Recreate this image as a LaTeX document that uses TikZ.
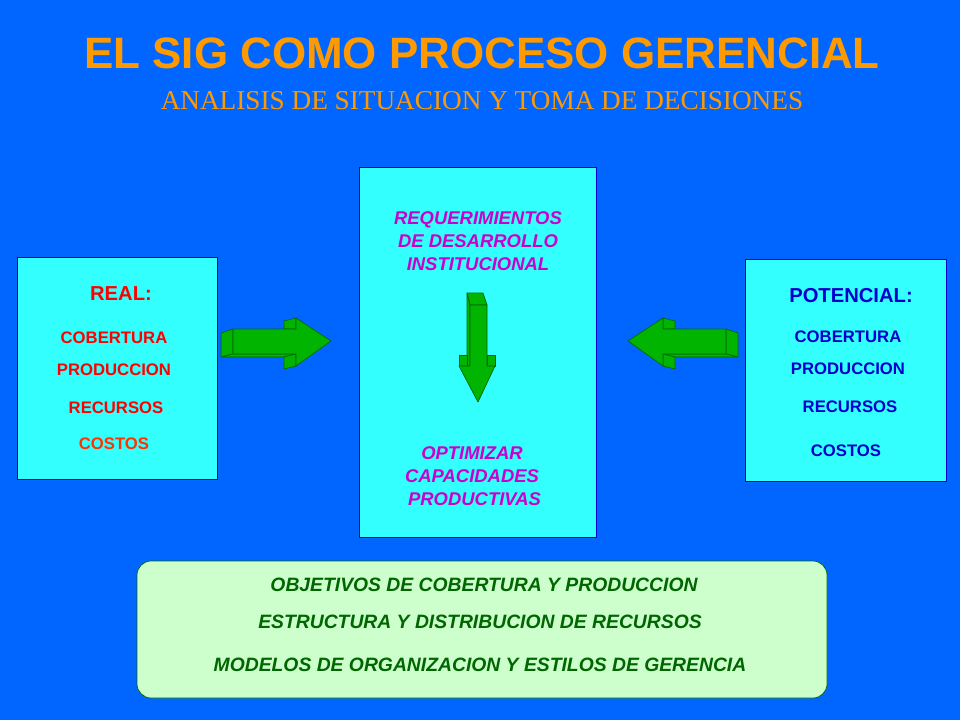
\documentclass[tikz,border=0pt]{standalone}
\usepackage{fontspec}
\setmainfont{Liberation Sans}
\newfontfamily\serifont{Liberation Serif}
\usetikzlibrary{positioning}
\definecolor{fondo}{HTML}{0066FF}
\definecolor{cian}{HTML}{33FFFF}
\definecolor{verdec}{HTML}{CCFFCC}
\definecolor{verdeo}{HTML}{006600}
\definecolor{naranja}{HTML}{FF9900}
\definecolor{magenta2}{HTML}{CC00CC}
\definecolor{azulo}{HTML}{0000CC}
\definecolor{flecha}{HTML}{00B400}
\tikzset{caja/.style={draw=azulo,fill=cian,line width=0.4pt},
  rojo/.style={text=red,font=\bfseries\fontsize{9.5}{11}\selectfont},
  azul/.style={text=azulo,font=\bfseries\fontsize{9.5}{11}\selectfont},
  meta/.style={text=magenta2,font=\bfseries\itshape\fontsize{10.5}{13}\selectfont,align=center},
  obj/.style={text=verdeo,font=\bfseries\itshape\fontsize{11}{13}\selectfont},
  cara/.style={fill=flecha,draw=verdeo,line join=round}}
\begin{document}
\begin{tikzpicture}[x=0.02cm,y=-0.02cm]
\fill[fondo] (0,0) rectangle (960,720);
\node[text=naranja,font=\bfseries\fontsize{25}{30}\selectfont] (titulo) at (482,53) {EL SIG COMO PROCESO GERENCIAL};
\node[text=naranja,font=\serifont\fontsize{15.5}{18}\selectfont] (sub) at (482,101) {ANALISIS DE SITUACION Y TOMA DE DECISIONES};

\draw[caja] (17,257) rectangle (217,479);
\draw[caja] (359,167) rectangle (596,537);
\draw[caja] (745,259) rectangle (946,481);
\draw[draw=verdeo,fill=verdec,rounded corners=8pt] (137,561) rectangle (827,698);

% real
\node[rojo,font=\bfseries\fontsize{11.5}{13}\selectfont] (real) at (121,294) {REAL:};
\node[rojo] (cob1) at (114,338) {COBERTURA};
\node[rojo] (prod1) at (114,370) {PRODUCCION};
\node[rojo] (rec1) at (116,408) {RECURSOS};
\node[rojo,text={rgb,255:red,255;green,51;blue,0}] (cos1) at (114,444) {COSTOS};

% potencial
\node[azul,font=\bfseries\fontsize{11.5}{13}\selectfont] (pot) at (851,296) {POTENCIAL:};
\node[azul] (cob2) at (848,337) {COBERTURA};
\node[azul] (prod2) at (848,369) {PRODUCCION};
\node[azul] (rec2) at (850,407) {RECURSOS};
\node[azul] (cos2) at (846,451) {COSTOS};

% centro
\node[meta] (req) at (478,241) {REQUERIMIENTOS\\DE DESARROLLO\\INSTITUCIONAL};
\node[meta] (opt) at (472,476) {OPTIMIZAR\\CAPACIDADES\\\ PRODUCTIVAS};

% objetivos
\node[obj] (o1) at (484,585) {OBJETIVOS DE COBERTURA Y PRODUCCION};
\node[obj] (o2) at (480,622) {ESTRUCTURA Y DISTRIBUCION DE RECURSOS};
\node[obj] (o3) at (480,665) {MODELOS DE ORGANIZACION Y ESTILOS DE GERENCIA};

% flechas
\draw[cara] (221,333) -- (233,329) -- (233,354) -- (221,357) -- cycle;
\draw[cara] (284,321) -- (296,318) -- (296,329) -- (284,329) -- cycle;
\draw[cara] (221,357) -- (233,354) -- (296,354) -- (284,357) -- cycle;
\draw[cara] (284,357) -- (296,354) -- (296,366) -- (284,369) -- cycle;
\draw[cara] (233,329) -- (296,329) -- (296,318) -- (331,341) -- (296,366) -- (296,354) -- (233,354) -- cycle;

\draw[cara] (738,333) -- (726,329) -- (726,354) -- (738,357) -- cycle;
\draw[cara] (675,321) -- (663,318) -- (663,329) -- (675,329) -- cycle;
\draw[cara] (738,357) -- (726,354) -- (663,354) -- (675,357) -- cycle;
\draw[cara] (675,357) -- (663,354) -- (663,366) -- (675,369) -- cycle;
\draw[cara] (726,329) -- (663,329) -- (663,318) -- (628,341) -- (663,366) -- (663,354) -- (726,354) -- cycle;

\draw[cara] (467,293) -- (483,293) -- (487,305) -- (470,305) -- cycle;
\draw[cara] (467,293) -- (470,305) -- (470,366) -- (467,366) -- cycle;
\draw[cara] (459,355) -- (467,355) -- (467,366) -- (459,366) -- cycle;
\draw[cara] (495,355) -- (487,355) -- (487,366) -- (495,366) -- cycle;
\draw[cara] (470,305) -- (487,305) -- (487,366) -- (495,366) -- (478,402) -- (459,366) -- (470,366) -- cycle;
\end{tikzpicture}
\end{document}
